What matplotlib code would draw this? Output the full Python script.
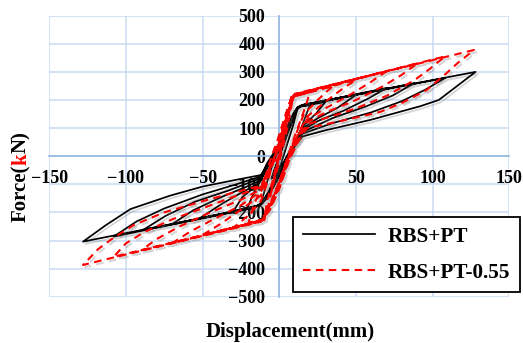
import matplotlib
matplotlib.use("Agg")
import matplotlib.pyplot as plt
import matplotlib.patheffects as pe

plt.rcParams['font.family'] = ['Liberation Serif', 'DejaVu Serif']
plt.rcParams['font.weight'] = 'bold'

# ---- data (displacement mm, force kN) ----
rbs_pt_loop = [
    (0, 0), (3, 50), (5, 80), (3, 45), (0, 0), (-3, -50), (-5, -80), (-3, -45), (0, 0),
    (4, 60), (8, 120), (12, 172), (9, 110), (5, 40), (1, -30), (-4, -90), (-8, -140), (-12, -172),
    (-9, -110), (-5, -40), (-1, 20),
    (4, 80), (8, 135), (12, 175), (20, 183), (17, 140), (14, 95), (9, 35), (3, -40), (-3, -100),
    (-8, -150), (-12, -172), (-21, -186), (-17, -135), (-13, -85), (-8, -25),
    (-2, 25), (4, 95), (9, 150), (13, 176), (30, 193), (24, 152), (16, 110), (10, 50), (4, -25),
    (-3, -95), (-8, -148), (-13, -175), (-30, -196), (-24, -145), (-14, -100), (-8, -40),
    (-2, 15), (5, 95), (10, 160), (14, 178), (50, 218), (38, 172), (25, 135), (16, 102), (10, 50),
    (3, -30), (-4, -110), (-10, -160), (-14, -177), (-52, -221), (-37, -168), (-24, -128),
    (-13, -95), (-7, -30),
    (-1, 20), (6, 100), (11, 165), (14, 180), (70, 243), (58, 205), (42, 162), (25, 125), (16, 95),
    (10, 45), (2, -40), (-5, -120), (-11, -165), (-15, -180), (-70, -242), (-56, -192), (-38, -146),
    (-22, -110), (-12, -85), (-6, -20),
    (0, 25), (6, 105), (11, 168), (15, 181), (88, 260), (74, 216), (56, 176), (35, 136), (16, 88),
    (9, 38), (1, -45), (-6, -125), (-11, -168), (-16, -182), (-89, -263), (-74, -212), (-55, -162),
    (-33, -122), (-12, -78), (-5, -10),
    (1, 30), (7, 110), (12, 172), (15, 182), (108, 278), (95, 236), (80, 196), (60, 156), (35, 118),
    (15, 80), (8, 30), (0, -50), (-7, -128), (-12, -170), (-17, -184), (-108, -286), (-93, -232),
    (-75, -186), (-50, -136), (-28, -100), (-12, -72), (-4, 0),
    (2, 40), (8, 118), (12, 175), (16, 184), (128, 300), (116, 250), (104, 200), (92, 178),
    (60, 130), (30, 92), (15, 70), (8, 20), (0, -55), (-7, -130), (-12, -172), (-18, -185),
    (-128, -304), (-113, -245), (-97, -188), (-71, -140), (-50, -108), (-30, -86), (-12, -67),
    (-4, 0), (0, 15),
]

rbs_pt055_loop = [
    (0, 0), (3, 70), (5, 120), (3, 70), (0, 0), (-3, -70), (-5, -120), (-3, -70), (0, 0),
    (3, 80), (6, 150), (9, 215), (7, 150), (4, 70), (0, -20), (-4, -100), (-7, -170), (-10, -228),
    (-8, -160), (-4, -80), (0, 10),
    (3, 90), (6, 160), (9, 212), (20, 228), (17, 175), (14, 130), (10, 70), (5, -10), (0, -90),
    (-5, -160), (-10, -225), (-20, -236), (-17, -180), (-14, -140), (-9, -70), (-5, 0),
    (-1, 60), (3, 130), (8, 210), (35, 250), (25, 200), (16, 150), (11, 80), (6, 0), (0, -90),
    (-5, -165), (-11, -226), (-30, -255), (-20, -210), (-12, -160), (-7, -80), (-3, 0),
    (0, 70), (4, 140), (8, 212), (50, 272), (40, 235), (28, 185), (18, 140), (12, 75), (6, -5),
    (0, -95), (-6, -170), (-11, -227), (-50, -280), (-38, -240), (-25, -190), (-12, -140),
    (-7, -70), (-3, 5),
    (1, 75), (5, 145), (9, 215), (70, 303), (60, 265), (45, 215), (30, 170), (18, 130), (12, 70),
    (6, -8), (0, -100), (-6, -175), (-11, -228), (-70, -310), (-58, -268), (-42, -222),
    (-25, -175), (-12, -125), (-7, -60), (-2, 10),
    (1, 80), (5, 150), (9, 218), (90, 330), (80, 290), (68, 250), (50, 200), (30, 155), (18, 120),
    (12, 62), (6, -12), (0, -105), (-6, -180), (-12, -230), (-90, -335), (-80, -295), (-65, -250),
    (-45, -200), (-25, -155), (-12, -118), (-6, -50), (-1, 20),
    (2, 85), (6, 155), (10, 220), (108, 355), (98, 310), (88, 270), (70, 215), (50, 170),
    (30, 135), (18, 112), (12, 55), (6, -15), (0, -110), (-6, -185), (-12, -232), (-108, -358),
    (-100, -310), (-88, -270), (-70, -225), (-50, -185), (-30, -145), (-12, -110), (-6, -40),
    (-1, 25),
    (2, 90), (6, 160), (10, 222), (127, 378), (116, 330), (109, 295), (96, 235), (80, 190),
    (66, 158), (40, 125), (18, 100), (12, 50), (6, -20), (0, -115), (-6, -190), (-12, -233),
    (-128, -387), (-118, -330), (-108, -290), (-95, -245), (-75, -200), (-50, -160), (-30, -130),
    (-12, -105), (-6, -40), (0, 0),
]

series_labels = ["RBS+PT", "RBS+PT-0.55"]
x_ticks = [-150, -100, -50, 0, 50, 100, 150]
y_ticks = [-500, -400, -300, -200, -100, 0, 100, 200, 300, 400, 500]

W, H = 523, 343
fig = plt.figure(figsize=(W / 100, H / 100), dpi=100)
ax = fig.add_axes([49.3 / W, 1 - 296.7 / H, 460 / W, 281 / H])

ax.set_xlim(-150, 150)
ax.set_ylim(-500, 500)
ax.set_xticks(x_ticks)
ax.set_yticks(y_ticks)
ax.grid(True, color='#C9DBF1', lw=1.1)
ax.set_axisbelow(True)
ax.tick_params(length=0, labelsize=13, pad=10)
for lab in ax.get_xticklabels() + ax.get_yticklabels():
    lab.set_fontweight('bold')

for s in ['top', 'right']:
    ax.spines[s].set_visible(False)
for s in ['left', 'bottom']:
    ax.spines[s].set_position(('data', 0))
    ax.spines[s].set_color('#9BBCE4')
    ax.spines[s].set_linewidth(1.3)
    ax.spines[s].set_zorder(1)

shadow = [pe.SimpleLineShadow(offset=(1.6, -1.6), shadow_color='0.45', alpha=0.3), pe.Normal()]

bx, by = zip(*rbs_pt_loop)
rx, ry = zip(*rbs_pt055_loop)
ax.plot(bx, by, color='black', lw=1.25, label=series_labels[0], path_effects=shadow, zorder=3)
ax.plot(rx, ry, color='#FF0000', lw=1.5, ls=(0, (3.6, 2.6)), label=series_labels[1],
        path_effects=shadow, zorder=4)

leg = fig.legend(loc='upper left', bbox_to_anchor=(293 / W, 1 - 217 / H), fancybox=False,
                 edgecolor='black', framealpha=1, fontsize=15.3, handlelength=3.4,
                 handletextpad=0.62, labelspacing=0.75, borderpad=0.45, borderaxespad=0)
leg.get_frame().set_linewidth(1.3)
for t in leg.get_texts():
    t.set_fontweight('bold')
for h in leg.get_lines():
    h.set_path_effects([])

fig.text(290 / W, 1 - 332 / H, "Displacement(mm)", ha='center', va='center',
         fontsize=15, fontweight='bold')

# multi-coloured rotated y label: Force(kN) with red "k"
renderer = fig.canvas.get_renderer()
parts = [("Force(", 'black'), ("k", '#FF0000'), ("N)", 'black')]
texts = []
heights = []
for s, c in parts:
    t = fig.text(0, 0, s, rotation=90, ha='center', va='bottom', fontsize=15,
                 fontweight='bold', color=c)
    bb = t.get_window_extent(renderer)
    texts.append(t)
    heights.append(bb.height / fig.bbox.height)
total = sum(heights)
y0 = (1 - 176.5 / H) - total / 2
for t, h in zip(texts, heights):
    t.set_position((21 / W, y0))
    y0 += h

fig.savefig("out.png", dpi=100)
